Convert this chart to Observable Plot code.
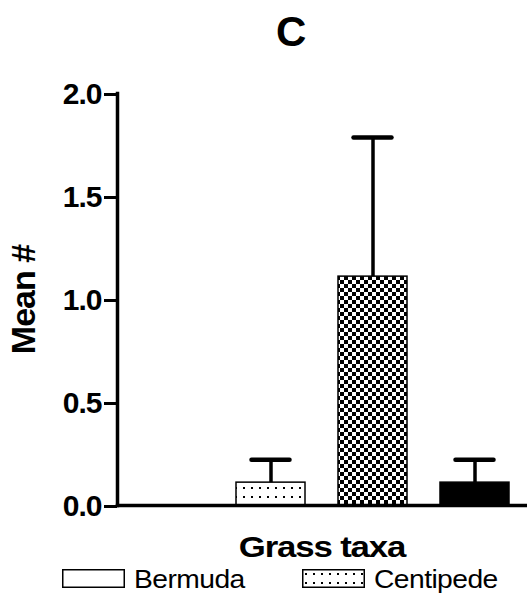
<!DOCTYPE html>
<html><head><meta charset="utf-8">
<script src="https://cdn.jsdelivr.net/npm/d3@7"></script>
<script src="https://cdn.jsdelivr.net/npm/@observablehq/plot@0.6"></script>
<style>
body{margin:0;background:#fff;font-family:"Liberation Sans",Arial,sans-serif;}
#wrap{position:relative;width:527px;height:601px;overflow:hidden;background:#fff}
#title{position:absolute;left:276px;top:11px;font-weight:bold;font-size:42px;line-height:1}
#chart{position:absolute;left:0;top:60px}
#chart svg text{letter-spacing:-1px}
.sw{position:absolute;top:569px}
.lt{position:absolute;top:567px;font-size:25px;line-height:1;transform-origin:left top;transform:scaleX(1.13);letter-spacing:-0.5px}
</style></head>
<body>
<div id="wrap">
  <div id="title"></div>
  <div id="chart"></div>
</div>
<script>
const titleText = "C";
const categories = ["Bermuda", "Centipede", "St. Augustine", "Zoysia"];
const means = [0, 0.111, 1.111, 0.111];
const errors = [0, 0.111, 0.675, 0.111];
const yTicks = [0, 0.5, 1.0, 1.5, 2.0];
const yLabel = "Mean #";
const xLabel = "Grass taxa";
const legendCategories = categories.slice(0, 2);

// styles
const fills = ["white", "url(#dots)", "url(#checks)", "black"];
const legendLefts = [62, 302];

const data = categories.map((c, i) => ({cat: c, mean: means[i], err: errors[i]}));
const withErr = data.filter(d => d.err > 0);

document.getElementById("title").textContent = titleText;

const plot = Plot.plot({
  width: 527, height: 510,
  marginTop: 33, marginBottom: 65, marginLeft: 117, marginRight: 1,
  x: {domain: categories, paddingInner: 0.325, paddingOuter: 0.1625, axis: null},
  y: {domain: [0, 2], axis: null},
  color: {domain: categories, range: fills},
  style: {fontFamily: '"Liberation Sans", Arial, sans-serif', background: "white", overflow: "visible", color: "black"},
  marks: [
    Plot.barY(data, {x: "cat", y: "mean", fill: "cat", stroke: "black", strokeWidth: 1.5}),
    Plot.ruleX(withErr, {x: "cat", y1: "mean", y2: d => d.mean + d.err, strokeWidth: 3.5, stroke: "black"}),
    Plot.tickY(withErr, {x: "cat", y: d => d.mean + d.err, strokeWidth: 4.5, strokeLinecap: "round", insetLeft: 15.5, insetRight: 15.5, stroke: "black"}),
    Plot.axisY({ticks: yTicks, tickFormat: d3.format(".1f"), tickSize: 13, tickPadding: 3, fontSize: 30, fontWeight: "bold", strokeWidth: 3, label: null, dy: 1}),
    Plot.frame({anchor: "left", strokeWidth: 3.5, strokeLinecap: "square"}),
    Plot.frame({anchor: "bottom", strokeWidth: 3.5, strokeLinecap: "square"}),
    Plot.text([yLabel], {frameAnchor: "left", textAnchor: "middle", lineAnchor: "middle", dx: -93, rotate: -90, fontSize: 34, fontWeight: "bold"}),
    Plot.text([xLabel], {frameAnchor: "bottom", textAnchor: "middle", lineAnchor: "middle", dy: 42, fontSize: 30, fontWeight: "bold"})
  ]
});

// patterns
const defs = d3.select(plot).insert("defs", ":first-child");
const pd = defs.append("pattern").attr("id", "dots").attr("patternUnits", "userSpaceOnUse").attr("width", 8).attr("height", 9);
pd.append("rect").attr("width", 8).attr("height", 9).attr("fill", "white");
pd.append("rect").attr("x", 3).attr("y", 4).attr("width", 2).attr("height", 2).attr("fill", "black");
const pc = defs.append("pattern").attr("id", "checks").attr("patternUnits", "userSpaceOnUse").attr("width", 8).attr("height", 8);
pc.append("rect").attr("width", 8).attr("height", 8).attr("fill", "white");
pc.append("rect").attr("width", 4).attr("height", 4).attr("fill", "black").attr("shape-rendering", "crispEdges");
pc.append("rect").attr("x", 4).attr("y", 4).attr("width", 4).attr("height", 4).attr("fill", "black").attr("shape-rendering", "crispEdges");

// horizontal stretch of the x label
d3.select(plot).selectAll("text").filter(function() { return this.textContent === xLabel; })
  .each(function() {
    const t = d3.select(this);
    const tr = t.attr("transform");
    if (tr) t.attr("transform", tr + " scale(1.16,1)");
    else { const x = +t.attr("x") || 0, y = +t.attr("y") || 0; t.attr("x", null).attr("y", null).attr("transform", `translate(${x},${y}) scale(1.16,1)`); }
  });

document.getElementById("chart").appendChild(plot);

// legend
const wrap = document.getElementById("wrap");
legendCategories.forEach((c, i) => {
  const i0 = categories.indexOf(c);
  const sw = d3.create("svg").attr("class", "sw").attr("width", 63).attr("height", 19).style("left", legendLefts[i] + "px");
  sw.append("rect").attr("x", 0.75).attr("y", 0.75).attr("width", 61.5).attr("height", 17.5)
    .attr("fill", fills[i0]).attr("stroke", "black").attr("stroke-width", 1.5);
  wrap.appendChild(sw.node());
  const t = document.createElement("div");
  t.className = "lt";
  t.style.left = (legendLefts[i] + 72) + "px";
  t.textContent = c;
  wrap.appendChild(t);
});
</script>
</body></html>
